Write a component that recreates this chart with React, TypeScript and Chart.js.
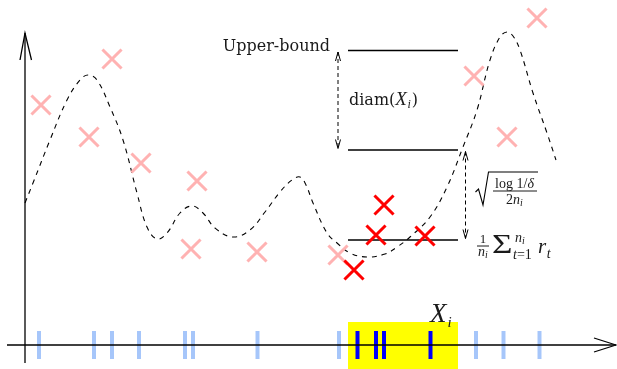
import { useEffect, useRef } from "react";
import { Chart, registerables } from "chart.js";

Chart.register(...registerables);

// Diagram units: 1 unit = 10 px on both axes, origin where the two axes cross.
const X_MIN = -2.5;
const X_MAX = 59.2;
const Y_MIN = -2.4;
const Y_MAX = 34.5;

// Expected-reward curve (dashed)
const curveX = [0, 0.8, 2.5, 4.2, 5.5, 6.3, 7.2, 8.5, 9.8, 11.2, 12.2, 13.2, 14.2, 15.5, 16.7, 17.8, 19.0, 20.8, 22.5, 24.0, 25.5, 26.7, 27.5, 28.1, 28.8, 30.2, 31.2, 32.5, 34.2, 36.0, 37.2, 38.5, 40.5, 42.2, 43.8, 45.2, 46.5, 47.5, 48.2, 48.8, 49.5, 50.8, 52.2, 53.1];
const curveY = [14.2, 16.2, 20.5, 24.5, 26.5, 27.0, 26.5, 23.8, 20.5, 15.2, 11.8, 10.6, 11.2, 13.2, 13.9, 13.2, 11.7, 10.8, 11.5, 13.3, 15.3, 16.5, 16.8, 16.0, 14.2, 11.2, 10.2, 9.2, 8.8, 9.1, 9.8, 10.8, 12.8, 15.8, 19.8, 23.5, 28.5, 30.8, 31.3, 30.9, 29.5, 25.2, 21.2, 18.5];

// Observed rewards outside the cell X_i
const otherX = [1.6, 8.7, 6.4, 11.6, 17.2, 16.6, 23.2, 31.3, 44.9, 48.2, 51.2];
const otherY = [24.0, 28.6, 20.8, 18.2, 16.4, 9.6, 9.3, 9.0, 26.9, 20.8, 32.7];

// Observed rewards inside the cell X_i
const cellX = [35.9, 35.1, 40.0, 32.9];
const cellY = [14.0, 11.0, 10.9, 7.5];

// Sample locations on the horizontal axis
const otherTicks = [1.4, 6.9, 8.7, 11.4, 16.0, 16.8, 23.25, 31.4, 45.1, 47.85, 51.45];
const cellTicks = [33.25, 35.1, 35.9, 40.55];

// Cell X_i and its bound levels
const cellRange = [32.3, 43.3];
const cellTop = 2.3;
const meanReward = 10.5;
const confidence = 9.0;
const diameter = 9.95;
const arrowX = [31.3, 44.05];

const PINK = "rgb(255,178,178)";
const RED = "rgb(255,0,0)";
const LIGHT_BLUE = "rgb(166,198,250)";
const DARK_BLUE = "rgb(0,0,250)";
const SERIF = '"DejaVu Serif", serif';
const MATH = '"Liberation Serif", serif';

type Run = { t: string; size: number; italic?: boolean; face?: string; dx?: number; dy?: number; sx?: number };

function runsWidth(ctx: CanvasRenderingContext2D, runs: Run[]) {
  let w = 0;
  for (const r of runs) {
    ctx.font = `${r.italic ? "italic " : ""}${r.size}px ${r.face ?? MATH}`;
    w += (r.dx ?? 0) + ctx.measureText(r.t).width * (r.sx ?? 1);
  }
  return w;
}

function drawRuns(ctx: CanvasRenderingContext2D, runs: Run[], x: number, y: number) {
  ctx.textAlign = "left";
  ctx.textBaseline = "alphabetic";
  for (const r of runs) {
    ctx.font = `${r.italic ? "italic " : ""}${r.size}px ${r.face ?? MATH}`;
    x += r.dx ?? 0;
    const k = r.sx ?? 1;
    ctx.save();
    ctx.translate(x, y + (r.dy ?? 0));
    ctx.scale(k, 1);
    ctx.fillText(r.t, 0, 0);
    ctx.restore();
    x += ctx.measureText(r.t).width * k;
  }
  return x;
}

const notes = {
  id: "notes",
  afterDatasetsDraw(chart: Chart) {
    const { ctx } = chart;
    const xs = chart.scales.x;
    const ys = chart.scales.y;
    const upper = meanReward + confidence + diameter;
    const mid = meanReward + confidence;
    const a1 = xs.getPixelForValue(arrowX[0]);
    const a2 = xs.getPixelForValue(arrowX[1]);
    const yU = ys.getPixelForValue(upper);
    const yM = ys.getPixelForValue(mid);
    const yR = ys.getPixelForValue(meanReward);

    ctx.save();
    ctx.strokeStyle = "#000";
    ctx.fillStyle = "#1a1a1a";

    // dashed double arrows
    const dArrow = (x: number, top: number, bot: number) => {
      ctx.lineWidth = 1;
      ctx.setLineDash([4, 3]);
      ctx.beginPath();
      ctx.moveTo(x, top);
      ctx.lineTo(x, bot);
      ctx.stroke();
      ctx.setLineDash([]);
      ctx.beginPath();
      ctx.moveTo(x - 2.5, top + 9);
      ctx.lineTo(x, top);
      ctx.lineTo(x + 2.5, top + 9);
      ctx.moveTo(x - 2.5, bot - 9);
      ctx.lineTo(x, bot);
      ctx.lineTo(x + 2.5, bot - 9);
      ctx.stroke();
    };
    dArrow(a1, yU + 1.5, yM - 1.5);
    dArrow(a2, yM + 1.5, yR - 1.5);

    // Upper-bound
    ctx.font = `16px ${SERIF}`;
    ctx.textAlign = "right";
    ctx.textBaseline = "alphabetic";
    ctx.fillText("Upper-bound", a1 - 8, yU);

    // diam(X_i)
    drawRuns(
      ctx,
      [
        { t: "diam(", size: 16, face: SERIF },
        { t: "X", size: 19, italic: true },
        { t: "i", size: 12, italic: true, dx: 0.5, dy: 3 },
        { t: ")", size: 16, face: SERIF, dx: 1 },
      ],
      a1 + 11,
      (yU + yM) / 2 + 5
    );

    // sqrt(log(1/delta) / 2 n_i)
    const sx = a2 + 11.5;
    const cy = (yM + yR) / 2;
    ctx.lineWidth = 1.1;
    ctx.beginPath();
    ctx.moveTo(sx - 1.5, cy - 3);
    ctx.lineTo(sx + 1.5, cy - 6);
    ctx.lineTo(sx + 6, cy + 10);
    ctx.lineTo(sx + 11.5, cy - 23);
    ctx.lineTo(sx + 61, cy - 23);
    ctx.stroke();
    const num: Run[] = [
      { t: "log 1/", size: 14 },
      { t: "δ", size: 14, italic: true },
    ];
    const den: Run[] = [
      { t: "2", size: 14 },
      { t: "n", size: 14, italic: true },
      { t: "i", size: 10, italic: true, dy: 2 },
    ];
    const fc = sx + 37.5;
    drawRuns(ctx, num, fc - runsWidth(ctx, num) / 2, cy - 7);
    drawRuns(ctx, den, fc - runsWidth(ctx, den) / 2, cy + 9);
    ctx.lineWidth = 0.9;
    ctx.beginPath();
    ctx.moveTo(sx + 16, cy - 4);
    ctx.lineTo(sx + 60, cy - 4);
    ctx.stroke();

    // (1/n_i) sum_{t=1}^{n_i} r_t
    const fx = a2 + 11.5;
    const one: Run[] = [{ t: "1", size: 13 }];
    const ni: Run[] = [
      { t: "n", size: 14, italic: true },
      { t: "i", size: 10, italic: true, dy: 2 },
    ];
    drawRuns(ctx, one, fx + 6 - runsWidth(ctx, one) / 2, yR + 3);
    drawRuns(ctx, ni, fx + 6 - runsWidth(ctx, ni) / 2, yR + 16);
    ctx.beginPath();
    ctx.moveTo(fx, yR + 6);
    ctx.lineTo(fx + 12, yR + 6);
    ctx.stroke();
    drawRuns(ctx, [{ t: "Σ", size: 27, sx: 1.3 }], fx + 15, yR + 13);
    drawRuns(
      ctx,
      [
        { t: "n", size: 14, italic: true },
        { t: "i", size: 10, italic: true, dy: 2 },
      ],
      fx + 38,
      yR + 2
    );
    drawRuns(
      ctx,
      [
        { t: "t", size: 14, italic: true },
        { t: "=1", size: 14 },
      ],
      fx + 36,
      yR + 19
    );
    drawRuns(
      ctx,
      [
        { t: "r", size: 21, italic: true },
        { t: "t", size: 14, italic: true, dx: 0.5, dy: 5 },
      ],
      fx + 61,
      yR + 13
    );

    // X_i above the cell
    drawRuns(
      ctx,
      [
        { t: "X", size: 27, italic: true },
        { t: "i", size: 15, italic: true, dx: 1, dy: 5 },
      ],
      xs.getPixelForValue(cellRange[1]) - 28,
      ys.getPixelForValue(cellTop)
    );

    ctx.restore();
  },
};

const pts = (xs: number[], ys: number[]) => xs.map((x, i) => ({ x, y: ys[i] }));
const seg = (x0: number, x1: number, y: number) => [
  { x: x0, y },
  { x: x1, y },
];

export default function App() {
  const ref = useRef<HTMLCanvasElement>(null);

  useEffect(() => {
    if (!ref.current) return;
    const upper = meanReward + confidence + diameter;
    const mid = meanReward + confidence;
    const plain = { pointRadius: 0, showLine: true, fill: false };

    const chart = new Chart(ref.current, {
      type: "scatter",
      data: {
        datasets: [
          // cell highlight
          {
            ...plain,
            data: seg(cellRange[0], cellRange[1], cellTop),
            borderWidth: 0,
            backgroundColor: "rgb(255,255,0)",
            fill: { value: Y_MIN },
            order: 10,
          },
          // sample ticks
          {
            data: otherTicks.map((x) => ({ x, y: 0 })),
            pointStyle: "line",
            pointRotation: 90,
            pointRadius: 14,
            pointBorderWidth: 4,
            pointBorderColor: LIGHT_BLUE,
            order: 8,
          },
          {
            data: cellTicks.map((x) => ({ x, y: 0 })),
            pointStyle: "line",
            pointRotation: 90,
            pointRadius: 14,
            pointBorderWidth: 4,
            pointBorderColor: DARK_BLUE,
            order: 7,
          },
          // axes
          { ...plain, data: [{ x: -1.8, y: 0 }, { x: 59.1, y: 0 }], borderColor: "#000", borderWidth: 1.3, order: 6 },
          { ...plain, data: [{ x: 56.9, y: 0.7 }, { x: 59.1, y: 0 }, { x: 56.9, y: -0.7 }], borderColor: "#000", borderWidth: 1.3, order: 6 },
          { ...plain, data: [{ x: 0, y: -1.8 }, { x: 0, y: 31.2 }], borderColor: "#000", borderWidth: 1.3, order: 6 },
          { ...plain, data: [{ x: -0.5, y: 28.5 }, { x: 0, y: 31.2 }, { x: 0.65, y: 28.5 }], borderColor: "#000", borderWidth: 1.3, order: 6 },
          // bound levels
          { ...plain, data: seg(cellRange[0], cellRange[1], upper), borderColor: "#000", borderWidth: 1.5, order: 5 },
          { ...plain, data: seg(cellRange[0], cellRange[1], mid), borderColor: "#000", borderWidth: 1.5, order: 5 },
          { ...plain, data: seg(cellRange[0], cellRange[1], meanReward), borderColor: "#000", borderWidth: 1.5, order: 5 },
          // expected reward
          {
            ...plain,
            data: pts(curveX, curveY),
            borderColor: "#000",
            borderWidth: 1.1,
            borderDash: [5, 5],
            tension: 0.4,
            order: 4,
          },
          // rewards
          {
            data: pts(otherX, otherY),
            pointStyle: "crossRot",
            pointRadius: 13.5,
            pointBorderWidth: 3,
            pointBorderColor: PINK,
            order: 2,
          },
          {
            data: pts(cellX, cellY),
            pointStyle: "crossRot",
            pointRadius: 13.5,
            pointBorderWidth: 3,
            pointBorderColor: RED,
            order: 1,
          },
        ],
      },
      options: {
        responsive: false,
        animation: false,
        devicePixelRatio: 1,
        events: [],
        layout: { padding: 0, autoPadding: false },
        scales: {
          x: { type: "linear", min: X_MIN, max: X_MAX, display: false },
          y: { type: "linear", min: Y_MIN, max: Y_MAX, display: false },
        },
        plugins: {
          legend: { display: false },
          tooltip: { enabled: false },
        },
      },
      plugins: [notes],
    } as any);

    return () => chart.destroy();
  }, []);

  return (
    <div style={{ position: "fixed", left: 0, top: 0, width: 617, height: 369, background: "#fff" }}>
      <canvas ref={ref} width={617} height={369} />
    </div>
  );
}
